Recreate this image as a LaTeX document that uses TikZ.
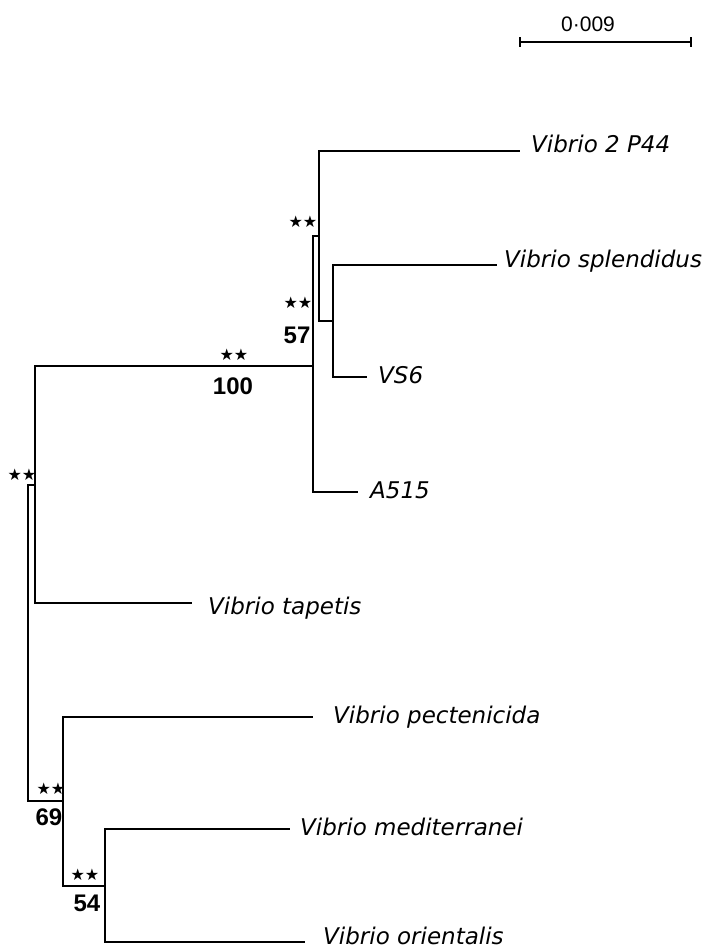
\documentclass[tikz,border=0pt]{standalone}
\usepackage{fontspec}
\usepackage{tikz}
\newfontfamily\taxonfont{DejaVu Sans}
\newfontfamily\numfont{Liberation Sans}
\newfontfamily\starfont{DejaVu Sans}

\begin{document}
\begin{tikzpicture}[
		x=1pt, y=-1pt,
		branch/.style={line width=1.8pt},
		taxon/.style={anchor=base west, inner sep=0pt, font=\taxonfont\itshape\fontsize{23}{23}\selectfont},
		stars/.style={inner sep=0pt, font=\starfont\fontsize{16}{16}\selectfont},
		support/.style={inner sep=0pt, font=\numfont\bfseries\fontsize{24}{24}\selectfont},
		scalelabel/.style={inner sep=0pt, font=\numfont\fontsize{21}{21}\selectfont}]
	\useasboundingbox (0,0) rectangle (703,949);
	%% define internal nodes
	\coordinate (nR) at (28,643);
	\coordinate (nV) at (35,485);
	\coordinate (nA) at (313,366);
	\coordinate (nB) at (319,236);
	\coordinate (nC) at (333,321);
	\coordinate (n69) at (63,801);
	\coordinate (n54) at (105,886);
	%% define tips
	\coordinate (tP44) at (520,151);
	\coordinate (tSpl) at (497,265);
	\coordinate (tVS6) at (367,377);
	\coordinate (tA515) at (358,492);
	\coordinate (tTap) at (192,603);
	\coordinate (tPec) at (313,717);
	\coordinate (tMed) at (290,829);
	\coordinate (tOri) at (305,942);
	%% define branches
	\draw[branch] (nR) |- (nV);
	\draw[branch] (nR) |- (n69);
	\draw[branch] (nV) |- (nA);
	\draw[branch] (nV) |- (tTap);
	\draw[branch] (nA) |- (nB);
	\draw[branch] (nA) |- (tA515);
	\draw[branch] (nB) |- (tP44);
	\draw[branch] (nB) |- (nC);
	\draw[branch] (nC) |- (tSpl);
	\draw[branch] (nC) |- (tVS6);
	\draw[branch] (n69) |- (tPec);
	\draw[branch] (n69) |- (n54);
	\draw[branch] (n54) |- (tMed);
	\draw[branch] (n54) |- (tOri);
	%% define taxa
	\node (lP44) at (531,153) [taxon] {Vibrio 2 P44};
	\node (lSpl) at (504,268) [taxon] {Vibrio splendidus};
	\node (lVS6) at (378,383) [taxon] {VS6};
	\node (lA515) at (370,498) [taxon] {A515};
	\node (lTap) at (208,614) [taxon] {Vibrio tapetis};
	\node (lPec) at (333,723) [taxon] {Vibrio pectenicida};
	\node (lMed) at (300,835) [taxon] {Vibrio mediterranei};
	\node (lOri) at (323,944) [taxon] {Vibrio orientalis};
	%% define support values
	\node (sR) at (22,475) [stars] {★★};
	\node (sA) at (234,355) [stars] {★★};
	\node (bA) at (233,386) [support] {100};
	\node (sB) at (303,222) [stars] {★★};
	\node (sC) at (298,303) [stars] {★★};
	\node (bC) at (297,335) [support] {57};
	\node (s69) at (51,789) [stars] {★★};
	\node (b69) at (49,817) [support] {69};
	\node (s54) at (85,875) [stars] {★★};
	\node (b54) at (87,903) [support] {54};
	%% define scale bar
	\coordinate (barL) at (520,42);
	\coordinate (barR) at (691,42);
	\draw[branch] (barL) -- (barR);
	\draw[branch] ([yshift=-5pt]barL) -- ([yshift=5pt]barL);
	\draw[branch] ([yshift=-5pt]barR) -- ([yshift=5pt]barR);
	\node (barlabel) at (588,24) [scalelabel] {0·009};
\end{tikzpicture}
\end{document}
